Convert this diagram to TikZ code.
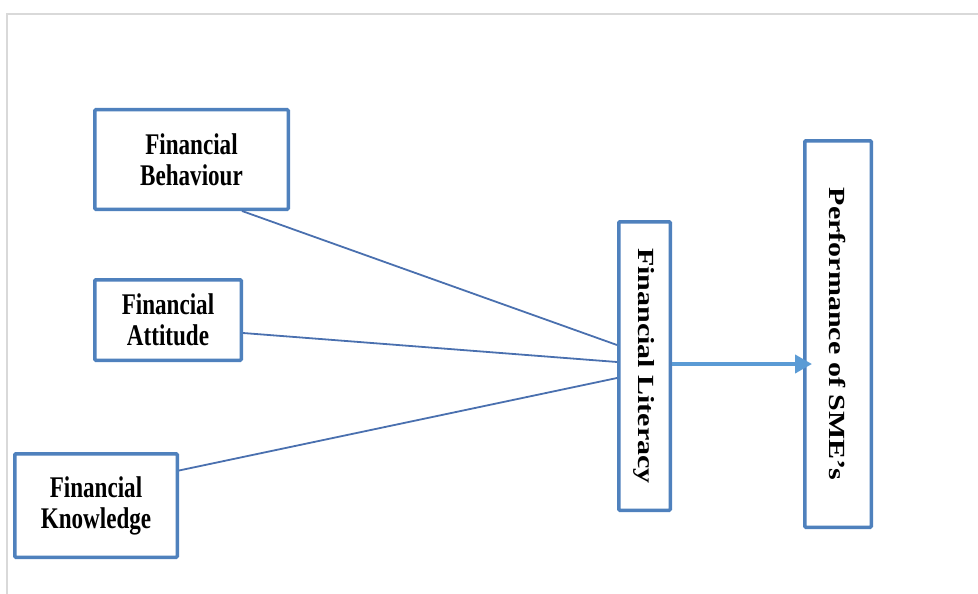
\documentclass[tikz,border=0pt]{standalone}
\usepackage{fontspec}
\setmainfont{Liberation Serif}
\newfontfamily\narrowserif[FakeStretch=0.77]{Liberation Serif}
\usetikzlibrary{arrows.meta, positioning}

\definecolor{boxblue}{RGB}{79,129,189}
\definecolor{linkblue}{RGB}{74,112,175}
\definecolor{arrowblue}{RGB}{91,155,213}
\definecolor{framegray}{RGB}{217,217,217}

\newcommand{\vtext}[1]{\rotatebox{-90}{\scalebox{1}[0.77]{#1}}}

\begin{document}
\begin{tikzpicture}[x=1pt, y=-1pt,
    factor/.style={draw=boxblue, line width=3.5pt, rounded corners=1pt, fill=white,
        align=center, inner sep=0pt, font=\narrowserif\bfseries\fontsize{30}{31}\selectfont},
    outcome/.style={draw=boxblue, line width=3.5pt, rounded corners=1pt, fill=white,
        inner sep=0pt, font=\bfseries\fontsize{30}{31}\selectfont},
    link/.style={linkblue, line width=1.8pt},
    flow/.style={arrowblue, line width=4pt, -{Triangle[length=17pt, width=18pt]}}]
    \useasboundingbox (0,0) rectangle (978,594);

    % Frame
    \draw[framegray, line width=2pt] (7,594) -- (7,14) -- (978,14);

    % Factors
    \node (beh) at (191.5,159.5) [factor, minimum width=193.5pt, minimum height=99.5pt] {Financial\\Behaviour};
    \node (att) at (168,320) [factor, minimum width=146.5pt, minimum height=80.5pt] {Financial\\Attitude};
    \node (know) at (96,505.5) [factor, minimum width=162.5pt, minimum height=103.5pt] {Financial\\Knowledge};

    % Literacy and performance
    \node (lit) at (644.5,366) [outcome, minimum width=51.5pt, minimum height=288.5pt] {\vtext{Financial Literacy}};
    \node (perf) at (838,334) [outcome, minimum width=66.5pt, minimum height=386.5pt] {\vtext{Performance of SME's}};

    % Links
    \draw[link] ([xshift=-48pt]beh.south east) -- ([yshift=21pt]lit.west);
    \draw[link] ([yshift=-13pt]att.east) -- ([yshift=4pt]lit.west);
    \draw[link] ([yshift=35pt]know.east) -- ([yshift=-12pt]lit.west);
    \draw[flow, shorten >=-9pt] ([yshift=2pt]lit.east) -- ([yshift=2pt]lit.east -| perf.west);
\end{tikzpicture}
\end{document}
